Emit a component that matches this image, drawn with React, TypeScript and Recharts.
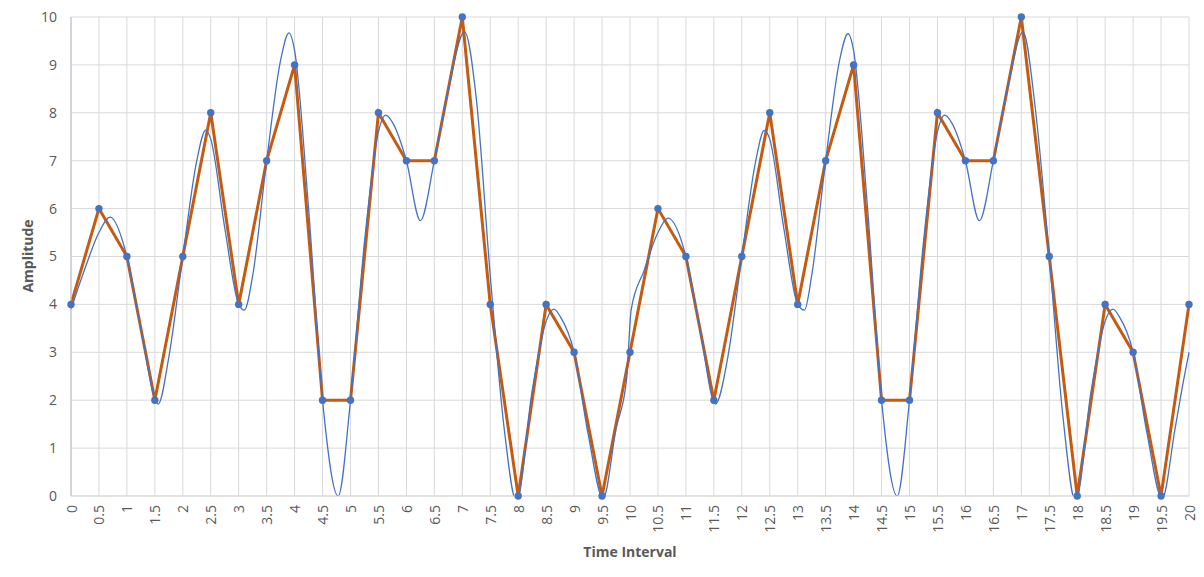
import { LineChart, Line, XAxis, YAxis, CartesianGrid } from 'recharts'

// sampled points (orange line + blue dots)
const timeSteps = [
  0, 0.5, 1, 1.5, 2, 2.5, 3, 3.5, 4, 4.5, 5, 5.5, 6, 6.5, 7, 7.5, 8, 8.5, 9, 9.5,
  10, 10.5, 11, 11.5, 12, 12.5, 13, 13.5, 14, 14.5, 15, 15.5, 16, 16.5, 17, 17.5, 18, 18.5, 19, 19.5, 20,
]
const sampledAmplitude = [
  4, 6, 5, 2, 5, 8, 4, 7, 9, 2, 2, 8, 7, 7, 10, 4, 0, 4, 3, 0,
  3, 6, 5, 2, 5, 8, 4, 7, 9, 2, 2, 8, 7, 7, 10, 5, 0, 4, 3, 0, 4,
]

// smooth reconstructed signal (thin blue curve)
const curveTime = [
  0, 0.25, 0.5, 0.7, 1, 1.25, 1.56, 1.75, 2, 2.25, 2.41, 2.5, 2.75, 3, 3.1, 3.25, 3.5, 3.75, 3.9, 4,
  4.25, 4.5, 4.78, 5, 5.25, 5.5, 5.63, 5.75, 6, 6.25, 6.5, 6.75, 7.04, 7.25, 7.5, 7.75, 7.97, 8.25, 8.5, 8.64,
  8.75, 9, 9.25, 9.52, 9.75, 9.94, 10.02,
  10.25, 10.5, 10.68, 11, 11.25, 11.53, 11.75, 12, 12.25, 12.4, 12.5, 12.75, 13, 13.12, 13.25, 13.5, 13.75, 13.9, 14,
  14.25, 14.5, 14.78, 15, 15.25, 15.5, 15.63, 15.75, 16, 16.25, 16.5, 16.75, 17.03, 17.25, 17.5, 17.75, 17.97, 18.25, 18.5, 18.64,
  18.75, 19, 19.25, 19.52, 19.75, 19.9, 20,
]
const curveAmplitude = [
  3.9, 4.75, 5.5, 5.82, 5, 3.5, 1.92, 2.9, 5, 7, 7.64, 7.45, 5.6, 4, 3.88, 4.6, 7, 9.1, 9.67, 9.3,
  6, 2, 0, 2, 5.3, 7.6, 7.95, 7.8, 7, 5.75, 7, 8.5, 9.69, 8.3, 4.6, 1.4, -0.12, 2.2, 3.65, 3.9,
  3.75, 3, 1.3, -0.05, 1.4, 2.45, 3.88,
  4.7, 5.5, 5.8, 5, 3.5, 1.92, 2.9, 5, 7, 7.63, 7.45, 5.6, 4, 3.88, 4.6, 7, 9.1, 9.65, 9.3,
  6, 2, 0, 2, 5.3, 7.6, 7.95, 7.8, 7, 5.75, 7, 8.5, 9.69, 8.1, 5, 1.6, -0.12, 2.2, 3.65, 3.9,
  3.75, 3, 1.3, -0.05, 1.4, 2.4, 3,
]

const amplitudeTicks = [0, 1, 2, 3, 4, 5, 6, 7, 8, 9, 10]

const sampleData = timeSteps.map((t, i) => ({ t, amp: sampledAmplitude[i] }))
const curveData = curveTime.map((t, i) => ({ t, amp: curveAmplitude[i] }))

const FONT = '"Open Sans", "Noto Sans", sans-serif'
const TEXT = '#595959'

function TimeTick({ x, y, payload }: any) {
  return (
    <text
      transform={`translate(${x},${y + 1}) rotate(-90)`}
      textAnchor="end"
      dominantBaseline="central"
      fill={TEXT}
      fontSize={14}
      fontFamily={FONT}
    >
      {payload.value}
    </text>
  )
}

const yTitle = () => (
  <text
    x={27}
    y={256}
    transform="rotate(-90, 27, 256)"
    textAnchor="middle"
    dominantBaseline="central"
    fill={TEXT}
    fontSize={14}
    fontWeight={700}
    fontFamily={FONT}
  >
    Amplitude
  </text>
)

const xTitle = () => (
  <text
    x={630}
    y={551}
    textAnchor="middle"
    dominantBaseline="central"
    fill={TEXT}
    fontSize={14}
    fontWeight={700}
    fontFamily={FONT}
  >
    Time Interval
  </text>
)

export default function App() {
  return (
    <div style={{ position: 'fixed', left: 0, top: 0, width: 1204, height: 577, background: '#fff' }}>
      <LineChart width={1204} height={577} margin={{ top: 17, right: 15, bottom: 0, left: 0 }}>
        <CartesianGrid stroke="#d9d9d9" />
        <XAxis
          dataKey="t"
          type="number"
          domain={[0, 20]}
          ticks={timeSteps}
          interval={0}
          height={81}
          tickLine={false}
          axisLine={{ stroke: '#d9d9d9' }}
          tick={<TimeTick />}
          label={xTitle}
        />
        <YAxis
          dataKey="amp"
          type="number"
          domain={[0, 10]}
          ticks={amplitudeTicks}
          allowDataOverflow
          width={71}
          tickLine={false}
          tickSize={0}
          tickMargin={14}
          axisLine={{ stroke: '#b4bccb' }}
          tick={{ fill: TEXT, fontSize: 14, fontFamily: FONT }}
          label={yTitle}
        />
        <Line
          data={sampleData}
          dataKey="amp"
          type="linear"
          stroke="#c55a11"
          strokeWidth={3}
          dot={false}
          isAnimationActive={false}
        />
        <Line
          data={curveData}
          dataKey="amp"
          type="monotone"
          stroke="#4472c4"
          strokeWidth={1.3}
          dot={false}
          isAnimationActive={false}
        />
        <Line
          data={sampleData}
          dataKey="amp"
          type="linear"
          stroke="none"
          dot={{ r: 3.7, fill: '#4472c4', stroke: 'none', clipDot: false }}
          isAnimationActive={false}
        />
      </LineChart>
    </div>
  )
}
